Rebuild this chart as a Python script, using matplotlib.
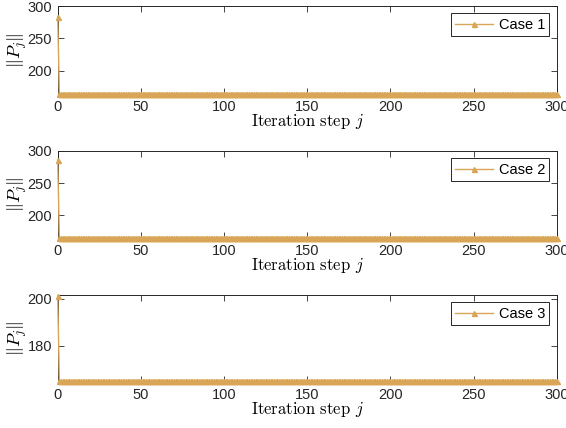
import matplotlib
matplotlib.use("Agg")
import matplotlib.pyplot as plt
import numpy as np

# iteration axis and norms of P_j for the three cases
steps = np.arange(0, 301)
case_names = ["Case 1", "Case 2", "Case 3"]
start_values = [283.8, 286.0, 201.2]   # ||P_0||
steady_values = [164.9, 164.9, 164.9]  # value reached after the first step
y_limits = [(164.3, 300), (164.3, 300), (164.6, 201.6)]
y_ticks = [[200, 250, 300], [200, 250, 300], [180, 200]]
x_ticks = [0, 50, 100, 150, 200, 250, 300]

line_color = "#D9A557"

plt.rcParams['font.family'] = ['Liberation Sans', 'DejaVu Sans']
plt.rcParams['mathtext.fontset'] = 'cm'
plt.rcParams['axes.unicode_minus'] = False

fig = plt.figure(figsize=(5.66, 4.28), dpi=100)
W, H = 566, 428
boxes = [(6, 94), (151, 238), (295, 382)]  # top, bottom in pixels

for k in range(3):
    top, bottom = boxes[k]
    ax = fig.add_axes([57.7 / W, 1 - bottom / H, 499 / W, (bottom - top) / H])
    series = [start_values[k]] + [steady_values[k]] * (len(steps) - 1)
    ax.plot(steps, series, color=line_color, lw=1.0, marker='^', ms=3.6,
            mfc=line_color, mec=line_color, label=case_names[k],
            clip_on=False, zorder=3)
    ax.set_xlim(0, 300)
    ax.set_ylim(*y_limits[k])
    ax.set_xticks(x_ticks)
    ax.set_yticks(y_ticks[k])
    ax.tick_params(direction='in', top=True, right=True, length=4,
                   width=0.6, labelsize=10.5, colors='#262626', pad=4)
    for s in ax.spines.values():
        s.set_linewidth(0.7)
        s.set_color('#262626')
    ax.set_xlabel("Iteration step $j$", fontfamily='cmr10', fontsize=12,
                  labelpad=-1)
    ax.set_ylabel(r"$\Vert P_j\Vert$", fontsize=13, labelpad=-1)
    leg = ax.legend(loc='upper right', fontsize=10.5, fancybox=False,
                    framealpha=1, edgecolor='#262626', handlelength=2.6,
                    borderpad=0.3, borderaxespad=0.5, handletextpad=0.4)
    leg.get_frame().set_linewidth(0.7)

fig.savefig("out.png", dpi=100)
